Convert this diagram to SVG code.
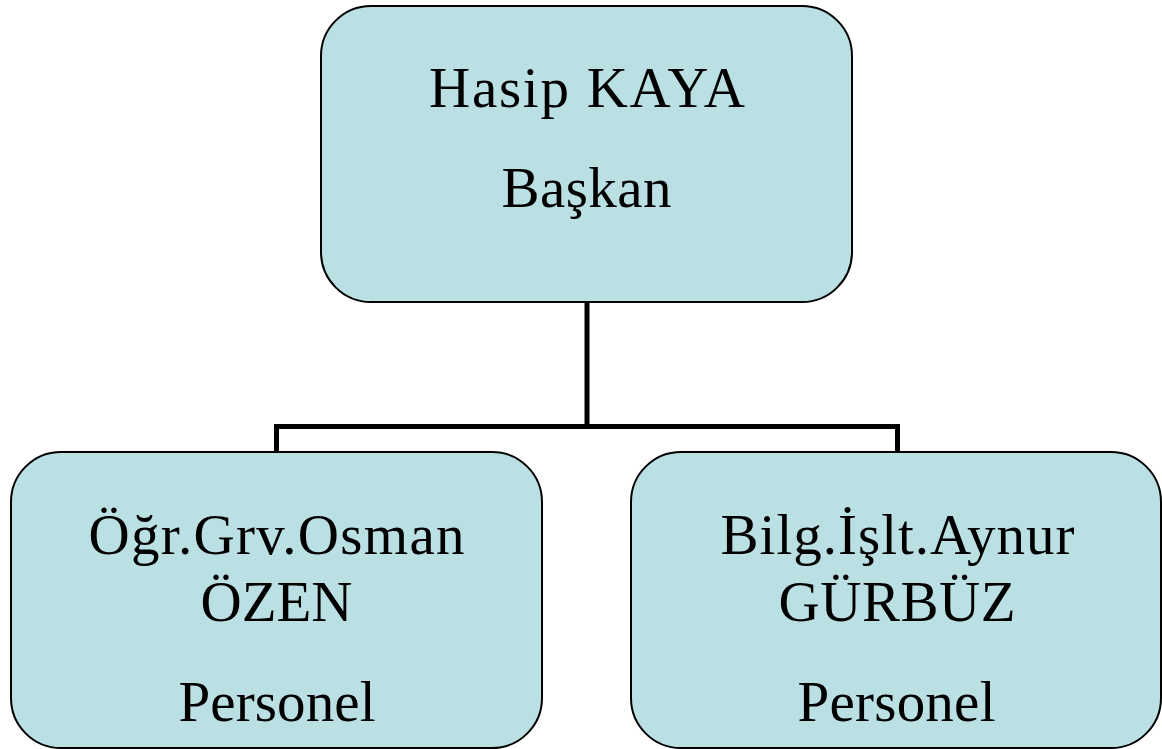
<svg xmlns="http://www.w3.org/2000/svg" width="1162" height="749" viewBox="0 0 1162 749">
<style>
.box{fill:#BBE0E3;stroke:#000;stroke-width:2}
.t{font-family:"Liberation Serif","Times New Roman",serif;font-size:57px;fill:#000;text-anchor:middle}
.c{fill:none;stroke:#000;stroke-width:5;stroke-linecap:butt;stroke-linejoin:miter}
</style>
<rect width="1162" height="749" fill="#fff"/>
<g id="connectors">
<path class="c" d="M587,302 V426.5 M276.5,452 V426.5 H897.5 V452"/>
</g>
<g id="node-baskan">
<rect class="box" x="321" y="6" width="531" height="296" rx="50" ry="50"/>
<text class="t" x="587" y="107" textLength="316" lengthAdjust="spacing">Hasip KAYA</text>
<text class="t" x="586.5" y="207" textLength="170" lengthAdjust="spacing">Başkan</text>
</g>
<g id="node-ozen">
<rect class="box" x="11" y="452" width="531" height="296" rx="50" ry="50"/>
<text class="t" x="276.5" y="554" textLength="376" lengthAdjust="spacing">Öğr.Grv.Osman</text>
<text class="t" x="276.5" y="621" textLength="152" lengthAdjust="spacing">ÖZEN</text>
<text class="t" x="277" y="721" textLength="197" lengthAdjust="spacing">Personel</text>
</g>
<g id="node-gurbuz">
<rect class="box" x="631" y="452" width="530" height="296" rx="50" ry="50"/>
<text class="t" x="897.5" y="554" textLength="354" lengthAdjust="spacing">Bilg.İşlt.Aynur</text>
<text class="t" x="897" y="621" textLength="237" lengthAdjust="spacing">GÜRBÜZ</text>
<text class="t" x="896.5" y="721" textLength="198" lengthAdjust="spacing">Personel</text>
</g>
</svg>
